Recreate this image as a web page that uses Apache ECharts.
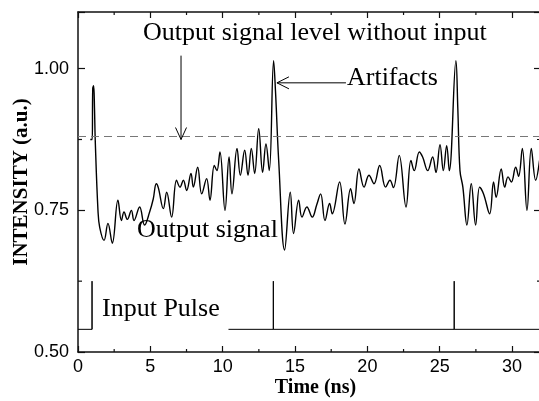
<!DOCTYPE html>
<html>
<head>
<meta charset="utf-8">
<script src="https://cdn.jsdelivr.net/npm/echarts@6/dist/echarts.min.js"></script>
<style>
html,body{margin:0;padding:0;background:#fff;}
#chart{width:539px;height:401px;}
</style>
</head>
<body>
<div id="chart"></div>
<script>
// ---- data ----
const xTickLabels = ['0','5','10','15','20','25','30'];
const yTickLabels = ['0.50','0.75','1.00'];
const xMinorTicks = [2.5, 7.5, 12.5, 17.5, 22.5, 27.5];
const yMinorTicks = [0.625, 0.875];

const outTime = [0.85,0.98,1.02,1.08,1.14,1.19,1.38,1.5,1.8,2.07,2.37,2.76,3.0,3.18,3.41,3.69,3.87,4.26,4.6,4.95,5.2,5.41,5.55,5.9,6.13,6.47,6.81,7.05,7.28,7.51,7.81,7.97,8.27,8.55,8.89,9.12,9.42,9.6,9.81,10.16,10.44,10.64,10.99,11.22,11.52,11.75,11.98,12.21,12.49,12.76,12.99,13.22,13.52,13.65,13.87,14.28,14.67,14.9,15.25,15.48,15.82,16.19,16.5,16.77,17.07,17.39,17.57,18.08,18.45,18.84,19.07,19.42,19.77,20.11,20.46,20.85,21.26,21.56,21.8,22.2,22.67,23.01,23.24,23.59,23.82,24.17,24.51,24.74,25.02,25.25,25.48,25.66,26.12,26.25,26.4,26.6,26.88,27.18,27.48,27.76,28.03,28.45,28.72,28.9,29.25,29.49,29.72,29.95,30.25,30.45,30.71,31.03,31.33,31.63,31.9];
const outValue = [0.875,0.875,0.965,0.97,0.93,0.875,0.75,0.72,0.697,0.727,0.692,0.768,0.732,0.747,0.734,0.75,0.732,0.756,0.724,0.747,0.77,0.797,0.79,0.753,0.782,0.738,0.803,0.791,0.803,0.785,0.815,0.791,0.826,0.779,0.806,0.768,0.829,0.82,0.853,0.75,0.844,0.779,0.859,0.812,0.856,0.812,0.859,0.815,0.894,0.817,0.867,0.82,1.014,0.96,0.838,0.68,0.782,0.709,0.768,0.738,0.756,0.738,0.76,0.779,0.732,0.762,0.744,0.8,0.726,0.788,0.762,0.823,0.791,0.812,0.797,0.829,0.791,0.803,0.79,0.847,0.756,0.838,0.82,0.853,0.844,0.82,0.844,0.817,0.866,0.82,0.864,0.82,1.014,0.93,0.82,0.791,0.724,0.797,0.724,0.791,0.779,0.744,0.8,0.773,0.823,0.791,0.809,0.8,0.826,0.81,0.859,0.75,0.859,0.803,0.838];

const pulseSeg1Time = [0, 0.97, 0.97, 0.97];
const pulseSeg1Value = [0.54, 0.54, 0.625, 0.54];
const pulseSeg2Time = [10.4, 13.5, 13.5, 13.5, 26.0, 26.0, 26.0, 32];
const pulseSeg2Value = [0.54, 0.54, 0.625, 0.54, 0.54, 0.625, 0.54, 0.54];

const noInputLevel = 0.875;

const labelOutputLevel = {text:'Output signal level without input', t:4.49, v:1.0405};
const labelArtifacts = {text:'Artifacts', t:18.59, v:0.961};
const labelOutput = {text:'Output signal', t:4.08, v:0.692};
const labelInput = {text:'Input Pulse', t:1.66, v:0.553};
const arrowDown = {t:7.12, v0:1.023, v1:0.875};
const arrowLeft = {v:0.975, t0:18.52, t1:13.75};

// ---- chart ----
const zip = (a,b) => a.map((x,i)=>[x,b[i]]);
const X_MIN=0, X_MAX=32, Y_MIN=0.5, Y_MAX=1.1;
const axisColor = '#111';

function xAxisMajor(pos, showLabel){
  return {type:'value', position:pos, min:X_MIN, max:X_MAX, interval:5,
    axisLine:{show:true, onZero:false, lineStyle:{color:axisColor, width:1.5}},
    axisTick:{show:true, inside:true, length:6, lineStyle:{color:axisColor, width:1.2}},
    axisLabel:{show:showLabel, margin:6, color:'#000', fontFamily:'Liberation Sans', fontSize:18,
      formatter:v=>{const i=xTickLabels.indexOf(String(Math.round(v))); return (Math.abs(v-Math.round(v))<1e-6 && i>=0)?xTickLabels[i]:'';}},
    splitLine:{show:false}};
}
function yAxisMajor(pos, showLabel){
  return {type:'value', position:pos, min:Y_MIN, max:Y_MAX, interval:0.25,
    axisLine:{show:true, onZero:false, lineStyle:{color:axisColor, width:1.5}},
    axisTick:{show:true, inside:true, length:7, lineStyle:{color:axisColor, width:1.2}},
    axisLabel:{show:showLabel, margin:9, color:'#000', fontFamily:'Liberation Sans', fontSize:18,
      formatter:v=>{const s=v.toFixed(2); return yTickLabels.indexOf(s)>=0?s:'';}},
    splitLine:{show:false}};
}

const xb = xAxisMajor('bottom', true);
xb.name = 'Time (ns)';
xb.nameLocation = 'middle';
xb.nameGap = 26;
xb.nameMoveOverlap = false;
xb.nameTextStyle = {fontFamily:'Liberation Serif', fontWeight:'bold', fontSize:20, color:'#000', padding:[0,0,0,12]};
const yl = yAxisMajor('left', true);
yl.name = 'INTENSITY (a.u.)';
yl.nameLocation = 'middle';
yl.nameGap = 46;
yl.nameMoveOverlap = false;
yl.nameTextStyle = {fontFamily:'Liberation Serif', fontWeight:'bold', fontSize:21, color:'#000'};

const chart = echarts.init(document.getElementById('chart'), null, {renderer:'canvas'});
chart.setOption({
  animation:false,
  backgroundColor:'#fff',
  grid:{left:78, right:-2, top:12, bottom:49, containLabel:false, outerBoundsMode:'none'},
  xAxis:[xb, xAxisMajor('top', false)],
  yAxis:[yl, yAxisMajor('right', false)],
  series:[
    {type:'line', name:'Output signal', xAxisIndex:0, yAxisIndex:0, showSymbol:false, smooth:0.4,
      data:zip(outTime,outValue), lineStyle:{color:'#000', width:1.4},
      markLine:{silent:true, symbol:'none', label:{show:false},
        lineStyle:{color:'#777', type:[8,5], width:1}, data:[{yAxis:noInputLevel}]}},
    {type:'line', name:'Input pulse 1', xAxisIndex:0, yAxisIndex:0, showSymbol:false,
      data:zip(pulseSeg1Time,pulseSeg1Value), lineStyle:{color:'#000', width:1}},
    {type:'line', name:'Input pulse 2', xAxisIndex:0, yAxisIndex:0, showSymbol:false,
      data:zip(pulseSeg2Time,pulseSeg2Value), lineStyle:{color:'#000', width:1}}
  ]
});

function px(t,v){ return chart.convertToPixel({xAxisIndex:0, yAxisIndex:0}, [t,v]); }
function textEl(l){
  const p = px(l.t, l.v);
  return {type:'text', x:p[0], y:p[1], z:10, style:{text:l.text, fill:'#000',
    font:'26px "Liberation Serif"', textAlign:'left', textVerticalAlign:'bottom', verticalAlign:'bottom'}};
}
const a0 = px(arrowDown.t, arrowDown.v0), a1 = px(arrowDown.t, arrowDown.v1);
const b0 = px(arrowLeft.t0, arrowLeft.v), b1 = px(arrowLeft.t1, arrowLeft.v);
const ls = {stroke:'#000', lineWidth:1, fill:null};
const tickStyle = {stroke:axisColor, lineWidth:1.2};
const gfx = [
  textEl(labelOutputLevel), textEl(labelArtifacts), textEl(labelOutput), textEl(labelInput),
  {type:'line', z:10, shape:{x1:a0[0], y1:a0[1], x2:a1[0], y2:a1[1]}, style:ls},
  {type:'polyline', z:10, shape:{points:[[a1[0]-5.5,a1[1]-12],[a1[0],a1[1]],[a1[0]+5.5,a1[1]-12]]}, style:ls},
  {type:'line', z:10, shape:{x1:b0[0], y1:b0[1], x2:b1[0], y2:b1[1]}, style:ls},
  {type:'polyline', z:10, shape:{points:[[b1[0]+12,b1[1]-6],[b1[0],b1[1]],[b1[0]+12,b1[1]+6]]}, style:ls}
];
// minor ticks (inside, on all four sides)
xMinorTicks.forEach(t=>{
  const pb = px(t, Y_MIN), pt = px(t, Y_MAX);
  gfx.push({type:'line', z:5, shape:{x1:pb[0], y1:pb[1], x2:pb[0], y2:pb[1]-3}, style:tickStyle});
  gfx.push({type:'line', z:5, shape:{x1:pt[0], y1:pt[1], x2:pt[0], y2:pt[1]+3}, style:tickStyle});
});
yMinorTicks.forEach(v=>{
  const pl = px(X_MIN, v), pr = px(X_MAX, v);
  gfx.push({type:'line', z:5, shape:{x1:pl[0], y1:pl[1], x2:pl[0]+4, y2:pl[1]}, style:tickStyle});
  gfx.push({type:'line', z:5, shape:{x1:pr[0], y1:pr[1], x2:pr[0]-4, y2:pr[1]}, style:tickStyle});
});
chart.setOption({graphic:gfx});
</script>
</body>
</html>
